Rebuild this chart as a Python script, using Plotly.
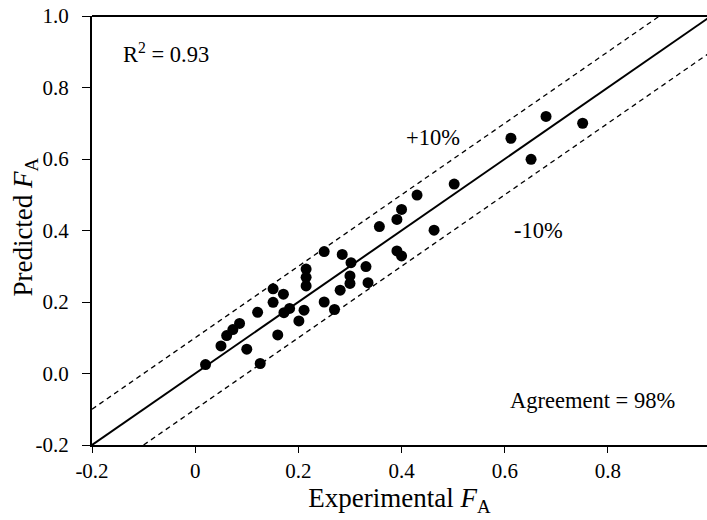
import plotly.graph_objects as go

# Data
experimental = [0.020, 0.050, 0.061, 0.073, 0.086, 0.100, 0.121, 0.126, 0.151, 0.151,
                0.160, 0.171, 0.172, 0.183, 0.201, 0.211, 0.215, 0.215, 0.215, 0.250,
                0.250, 0.270, 0.281, 0.285, 0.302, 0.300, 0.300, 0.331, 0.335, 0.357,
                0.391, 0.391, 0.400, 0.400, 0.430, 0.463, 0.502, 0.612, 0.651, 0.680,
                0.751]
predicted = [0.025, 0.077, 0.106, 0.123, 0.140, 0.068, 0.171, 0.028, 0.237, 0.199,
             0.108, 0.222, 0.170, 0.182, 0.147, 0.177, 0.292, 0.269, 0.245, 0.341,
             0.200, 0.179, 0.233, 0.333, 0.310, 0.273, 0.252, 0.299, 0.254, 0.411,
             0.431, 0.343, 0.459, 0.329, 0.499, 0.401, 0.530, 0.658, 0.599, 0.719,
             0.700]

line_x = [-0.2, 1.0]
band_offset = 0.1

x_ticks = [-0.2, 0.0, 0.2, 0.4, 0.6, 0.8]
x_tick_text = ["-0.2", "0", "0.2", "0.4", "0.6", "0.8"]
y_ticks = [-0.2, 0.0, 0.2, 0.4, 0.6, 0.8, 1.0]
y_tick_text = ["-0.2", "0.0", "0.2", "0.4", "0.6", "0.8", "1.0"]

FONT = "Liberation Serif"

fig = go.Figure()

# 1:1 line
fig.add_trace(go.Scatter(x=line_x, y=line_x, mode="lines",
                         line=dict(color="black", width=2), hoverinfo="skip"))
# +10% / -10% lines
upper_x = [line_x[0], line_x[1] - band_offset]
fig.add_trace(go.Scatter(x=upper_x, y=[v + band_offset for v in upper_x], mode="lines",
                         line=dict(color="black", width=1.3, dash="5px,4px"), hoverinfo="skip"))
lower_x = [line_x[0] + band_offset, line_x[1]]
fig.add_trace(go.Scatter(x=lower_x, y=[v - band_offset for v in lower_x], mode="lines",
                         line=dict(color="black", width=1.3, dash="5px,4px"), hoverinfo="skip"))

fig.add_trace(go.Scatter(x=experimental, y=predicted, mode="markers",
                         marker=dict(color="black", size=11)))

fig.update_layout(
    width=707, height=520,
    margin=dict(l=92, r=0, t=16, b=75, autoexpand=False),
    paper_bgcolor="white", plot_bgcolor="white",
    showlegend=False,
    font=dict(family=FONT, color="black", size=21),
    xaxis=dict(range=[-0.2, 0.992], tickvals=x_ticks, ticktext=x_tick_text,
               automargin=False, ticklabeloverflow="allow",
               showgrid=False, zeroline=False, showline=True, linecolor="black", linewidth=2,
               ticks="outside", ticklen=6, tickwidth=1, tickcolor="black",
               tickfont=dict(family=FONT, size=21),
               title=dict(text="Experimental <i>F</i><sub>A</sub>",
                          font=dict(family=FONT, size=27), standoff=4)),
    yaxis=dict(range=[-0.2, 1.0], tickvals=y_ticks, ticktext=y_tick_text,
               automargin=False, ticklabeloverflow="allow",
               showgrid=False, zeroline=False, showline=True, linecolor="black", linewidth=2,
               ticks="outside", ticklen=8, tickwidth=1, tickcolor="black",
               ticklabelstandoff=9,
               tickfont=dict(family=FONT, size=21)),
    shapes=[dict(type="line", xref="paper", yref="paper", x0=0, x1=1, y0=1, y1=1,
                 line=dict(color="black", width=2))],
    annotations=[
        dict(text="Predicted <i>F</i><sub>A</sub>", xref="paper", yref="paper",
             x=-0.109, y=0.509, xanchor="center", yanchor="middle", textangle=-90,
             showarrow=False, font=dict(family=FONT, size=27)),
        dict(text="R<sup>2</sup> = 0.93", xref="paper", yref="paper", x=0.047, y=0.914,
             xanchor="left", yanchor="middle", showarrow=False, font=dict(family=FONT, size=22.5)),
        dict(text="+10%", x=0.461, y=0.659, xanchor="center", yanchor="middle",
             showarrow=False, font=dict(family=FONT, size=22.5)),
        dict(text="-10%", x=0.665, y=0.401, xanchor="center", yanchor="middle",
             showarrow=False, font=dict(family=FONT, size=22.5)),
        dict(text="Agreement = 98%", x=0.770, y=-0.075, xanchor="center", yanchor="middle",
             showarrow=False, font=dict(family=FONT, size=22.5)),
    ],
)

fig.write_html("out.html", config={"displayModeBar": False},
               post_script="document.body.style.margin='0';document.body.style.overflow='hidden';")
